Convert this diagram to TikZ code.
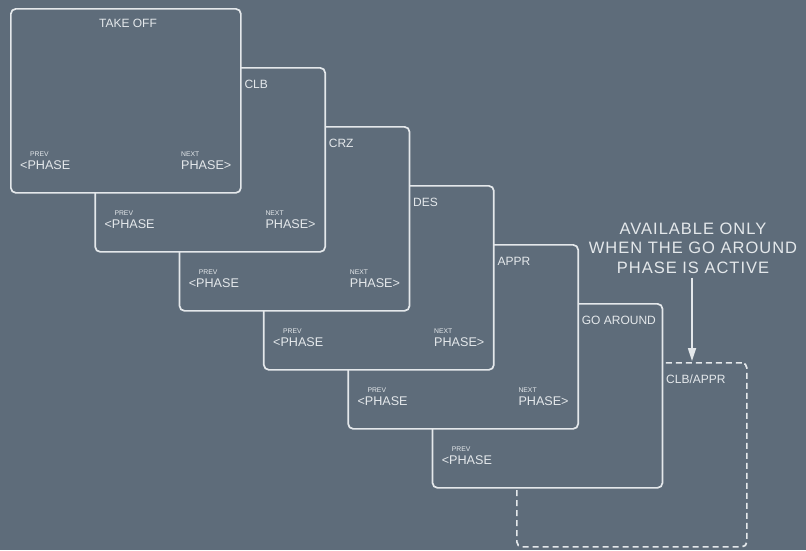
\documentclass[tikz,border=0pt]{standalone}
\usepackage{fontspec}
\setmainfont{Liberation Sans}
\newfontfamily\notefont[LetterSpace=6]{Liberation Sans}
\usetikzlibrary{arrows.meta, positioning, calc}
\definecolor{panelbg}{HTML}{5E6C7A}
\definecolor{panelline}{HTML}{E4E8EB}

\begin{document}
\begin{tikzpicture}[x=1pt, y=-1pt,
  panel/.style={draw=panelline, fill=panelbg, line width=1.7pt, rounded corners=5pt,
    minimum width=230pt, minimum height=184pt, inner sep=0pt, anchor=north west},
  title/.style={text=panelline, font=\fontsize{12}{13}\selectfont, anchor=west, inner sep=0pt},
  small/.style={text=panelline, font=\fontsize{6.8}{7}\selectfont, anchor=west, inner sep=0pt},
  key/.style={text=panelline, font=\fontsize{12.6}{13}\selectfont, anchor=west, inner sep=0pt},
  note/.style={text=panelline, font=\notefont\fontsize{16.5}{19.5}\selectfont, align=center, inner sep=4pt}]
  % 背景
  \fill[panelbg] (0,0) rectangle (806,550);

  % CLB/APPR（破線のページ）
  \node[panel, dash pattern=on 6pt off 4pt] (p6) at (516,362) {};
  \node[title] (t6) at (666,379) {CLB/APPR};

  % 各フェーズのページ（奥から順に）
  \foreach \i/\name in {5/GO AROUND, 4/APPR, 3/DES, 2/CRZ, 1/CLB, 0/TAKE OFF} {
    \pgfmathsetmacro{\px}{10+84.33*\i}
    \pgfmathsetmacro{\py}{8+59*\i}
    \node[panel] (p\i) at (\px,\py) {};
    \ifnum\i=0
      \node[title, anchor=center] (t\i) at (\px+118,\py+15) {\name};
    \else
      \node[title] (t\i) at (\px+150,\py+17) {\name};
    \fi
    \node[small] (pv\i) at (\px+20,\py+146) {PREV};
    \node[key] (pp\i) at (\px+10,\py+157) {<PHASE};
    \ifnum\i<5
      \node[small] (nx\i) at (\px+171,\py+146) {NEXT};
      \node[key] (np\i) at (\px+171,\py+157) {PHASE>};
    \fi
  }

  % 注記と矢印
  \node[note] (note) at (693,248) {AVAILABLE ONLY\\WHEN THE GO AROUND\\PHASE IS ACTIVE};
  \coordinate (tip) at (692,361);
  \draw[panelline, line width=1.7pt, -{Triangle[width=8pt, length=13pt]}] (note.south -| tip) -- (tip);
\end{tikzpicture}
\end{document}
